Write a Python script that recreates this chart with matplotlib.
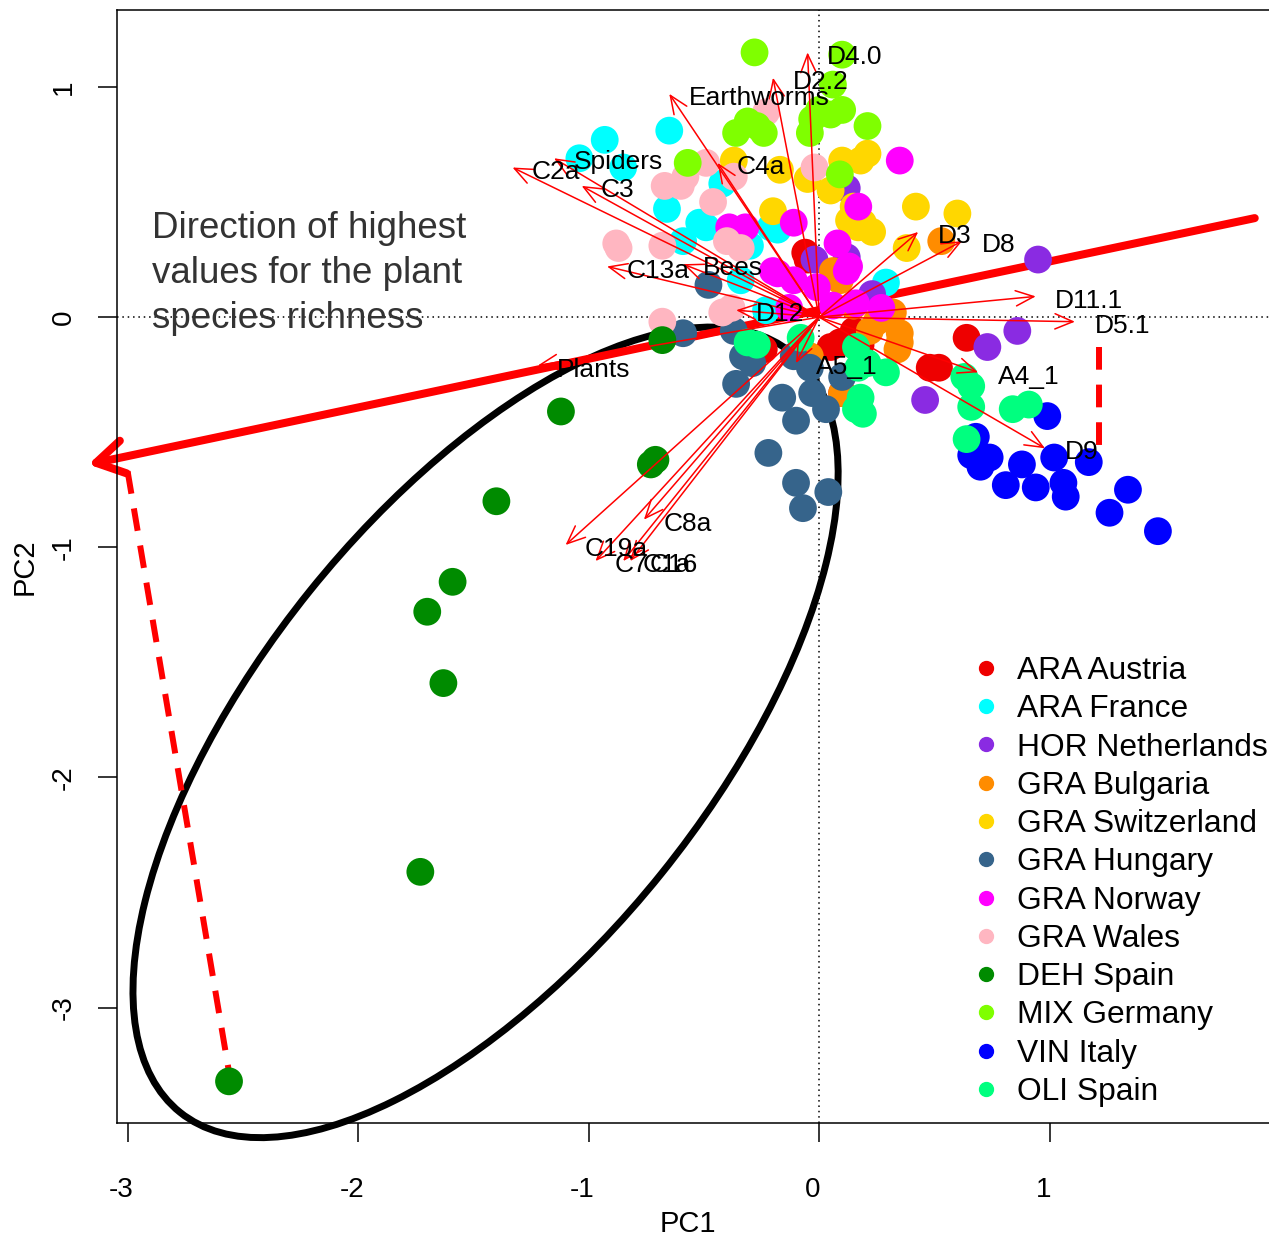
import numpy as np
import matplotlib
matplotlib.use("Agg")
import matplotlib.pyplot as plt
import matplotlib.transforms as mtransforms
from matplotlib.patches import Ellipse
from matplotlib.lines import Line2D

plt.rcParams['font.family'] = ['Liberation Sans', 'DejaVu Sans']

# PCA site scores per land-use / country group
groups = ['ARA Austria', 'ARA France', 'HOR Netherlands', 'GRA Bulgaria',
          'GRA Switzerland', 'GRA Hungary', 'GRA Norway', 'GRA Wales',
          'DEH Spain', 'MIX Germany', 'VIN Italy', 'OLI Spain']
group_colors = ['#EE0000', '#00FFFF', '#8A2BE2', '#FF8C00', '#FFD700', '#36648B',
                '#FF00FF', '#FFB6C1', '#008B00', '#7FFF00', '#0000FF', '#00FF7F']

austria_x = [0.64, 0.52, 0.48, -0.06, 0.12, 0.09, 0.15, 0.10, -0.24, 0.18, 0.05, -0.05]
austria_y = [-0.09, -0.22, -0.22, 0.28, -0.11, -0.11, -0.06, -0.33, -0.14, -0.12, -0.13, 0.25]
france_x = [-1.04, -0.93, -0.85, -0.65, -0.66, -0.52, -0.42, -0.49, -0.59, -0.34, -0.21, -0.18, -0.23, 0.29, -0.30]
france_y = [0.69, 0.77, 0.65, 0.81, 0.47, 0.41, 0.58, 0.39, 0.33, 0.16, 0.39, 0.38, 0.03, 0.15, 0.31]
netherlands_x = [0.95, 0.86, 0.73, 0.46, 0.12, -0.02, 0.23, 0.12]
netherlands_y = [0.25, -0.06, -0.13, -0.36, 0.56, 0.25, 0.10, 0.26]
bulgaria_x = [0.53, 0.32, 0.35, 0.34, 0.22, 0.09, 0.06, 0.35, -0.04, 0.10, 0.25, 0.15]
bulgaria_y = [0.33, 0.02, -0.07, -0.14, -0.06, 0.16, 0.20, -0.11, -0.17, -0.33, -0.02, 0.05]
switzerland_x = [0.10, 0.18, 0.21, 0.42, 0.60, 0.38, 0.19, 0.23, 0.13, 0.15, -0.20, -0.37, -0.17, -0.05, 0.05, 0.17]
switzerland_y = [0.68, 0.68, 0.71, 0.48, 0.45, 0.30, 0.41, 0.37, 0.42, 0.48, 0.46, 0.68, 0.64, 0.60, 0.55, 0.39]
hungary_x = [-0.59, -0.48, -0.36, -0.29, -0.16, -0.10, -0.03, 0.03, -0.22, -0.10, 0.04, -0.07, -0.11, -0.04, 0.10, -0.33, -0.37]
hungary_y = [-0.07, 0.14, -0.29, -0.20, -0.35, -0.45, -0.33, -0.40, -0.59, -0.72, -0.76, -0.83, -0.17, -0.22, -0.26, -0.17, -0.06]
norway_x = [0.35, 0.17, -0.11, -0.39, 0.08, 0.13, -0.18, -0.20, -0.11, -0.01, 0.12, 0.16, 0.27, -0.13, 0.06, -0.32]
norway_y = [0.68, 0.48, 0.41, 0.39, 0.32, 0.22, 0.19, 0.20, 0.16, 0.13, 0.20, 0.06, 0.04, 0.04, 0.05, 0.39]
wales_x = [-0.23, -0.67, -0.58, -0.49, -0.46, -0.37, -0.02, -0.88, -0.87, -0.68, -0.40, -0.34, -0.68, -0.42, -0.38, -0.60]
wales_y = [0.89, 0.57, 0.61, 0.67, 0.50, 0.61, 0.65, 0.32, 0.30, 0.31, 0.33, 0.30, -0.02, 0.02, 0.04, 0.57]
deh_x = [-2.56, -1.73, -1.63, -1.70, -1.59, -1.40, -1.12, -0.73, -0.71, -0.68]
deh_y = [-3.32, -2.41, -1.59, -1.28, -1.15, -0.80, -0.41, -0.64, -0.62, -0.10]
germany_x = [-0.28, 0.10, 0.06, -0.31, -0.36, -0.24, -0.27, -0.03, 0.00, 0.10, -0.04, 0.21, -0.57, 0.09, 0.05]
germany_y = [1.15, 1.14, 1.01, 0.85, 0.80, 0.80, 0.83, 0.86, 0.90, 0.90, 0.80, 0.83, 0.67, 0.62, 0.88]
italy_x = [0.99, 0.68, 0.66, 0.74, 0.70, 0.81, 0.88, 0.94, 1.02, 1.06, 1.07, 1.17, 1.34, 1.26, 1.47]
italy_y = [-0.43, -0.52, -0.60, -0.61, -0.65, -0.73, -0.64, -0.74, -0.61, -0.72, -0.78, -0.63, -0.75, -0.85, -0.93]
oli_x = [-0.31, -0.08, 0.16, 0.17, 0.18, 0.16, 0.19, 0.29, 0.63, 0.66, 0.66, 0.64, 0.84, 0.91, 0.21, -0.27]
oli_y = [-0.11, -0.09, -0.13, -0.22, -0.35, -0.40, -0.42, -0.24, -0.26, -0.30, -0.39, -0.53, -0.40, -0.38, -0.20, -0.12]

group_x = [austria_x, france_x, netherlands_x, bulgaria_x, switzerland_x, hungary_x,
           norway_x, wales_x, deh_x, germany_x, italy_x, oli_x]
group_y = [austria_y, france_y, netherlands_y, bulgaria_y, switzerland_y, hungary_y,
           norway_y, wales_y, deh_y, germany_y, italy_y, oli_y]

# variable loadings
var_names = ['D4.0', 'D2.2', 'Earthworms', 'Spiders', 'C2a', 'C3', 'C4a', 'C13a', 'Bees',
             'D12', 'D3', 'D8', 'D11.1', 'D5.1', 'A4_1', 'D9', 'A5_1', 'Plants',
             'C19a', 'C7', 'C1a', 'C16', 'C8a']
var_x = [-0.05, -0.20, -0.65, -1.15, -1.33, -1.03, -0.44, -0.92, -0.59,
         -0.36, 0.43, 0.62, 0.94, 1.11, 0.69, 0.98, -0.10, -1.22,
         -1.10, -0.97, -0.85, -0.82, -0.76]
var_y = [1.15, 1.04, 0.97, 0.69, 0.65, 0.57, 0.67, 0.22, 0.23,
         0.03, 0.37, 0.33, 0.09, -0.02, -0.24, -0.57, -0.20, -0.21,
         -0.99, -1.06, -1.06, -1.06, -0.88]

# plant species richness gradient and DEH Spain ellipse
richness_x = [1.89, -3.17]
richness_y = [0.43, -0.64]
proj_x = [-3.00, -2.56]
proj_y = [-0.67, -3.28]
drop_x = [1.215, 1.215]
drop_y = [-0.13, -0.56]
ell_center = (-1.447, -1.804)
ell_cov = np.array([[2.34, 1.72], [1.72, 3.10]])

fig = plt.figure(figsize=(12.69, 12.38), dpi=100)
ax = fig.add_axes([0.0922, 0.0929, 0.9178, 0.8990])
ax.set_xlim(-3.046, 2.007)
ax.set_ylim(-3.501, 1.334)

ax.axhline(0, color='black', lw=1.1, ls=(0, (1, 2.5)), zorder=1)
ax.axvline(0, color='black', lw=1.1, ls=(0, (1, 2.5)), zorder=1)

vals, vecs = np.linalg.eigh(ell_cov)
ang = np.degrees(np.arctan2(vecs[1, 1], vecs[0, 1]))
ax.add_patch(Ellipse(ell_center, 2 * np.sqrt(vals[1]), 2 * np.sqrt(vals[0]), angle=ang,
                     fill=False, edgecolor='black', lw=5, zorder=2, clip_on=False))

ax.annotate('', xy=(richness_x[1], richness_y[1]), xytext=(richness_x[0], richness_y[0]),
            annotation_clip=False, zorder=2,
            arrowprops=dict(arrowstyle='->,head_length=1.0,head_width=0.6', color='red',
                            lw=5.8, mutation_scale=20, shrinkA=0, shrinkB=0, clip_on=False))
ax.plot(proj_x, proj_y, color='red', lw=4.3, dashes=(3.8, 2.5), zorder=2)
ax.plot(drop_x, drop_y, color='red', lw=4.3, dashes=(3.8, 2.5), zorder=2)

for xs, ys, col in zip(group_x, group_y, group_colors):
    ax.scatter(xs, ys, s=400, color=col, edgecolors='none', zorder=3)

for name, vx, vy in zip(var_names, var_x, var_y):
    ax.annotate('', xy=(vx, vy), xytext=(0, 0), zorder=4,
                arrowprops=dict(arrowstyle='->,head_length=1.3,head_width=0.55', color='red',
                                lw=1.1, mutation_scale=10, shrinkA=0, shrinkB=0))
    ax.annotate(name, xy=(vx, vy), xytext=(14, -3), textcoords='offset points',
                ha='left', va='center', fontsize=19, color='black', zorder=5)

ax.text(-2.894, 0.19, 'Direction of highest\nvalues for the plant\nspecies richness',
        ha='left', va='center', fontsize=26.5, color='#333333', linespacing=1.36, zorder=5)

ax.set_xticks([-3, -2, -1, 0, 1])
ax.set_yticks([-3, -2, -1, 0, 1])
ax.set_xticklabels(['-3', '-2', '-1', '0', '1'])
ax.set_yticklabels(['-3', '-2', '-1', '0', '1'], rotation=90, va='center')
ax.tick_params(axis='both', direction='out', length=13.7, width=1.1, labelsize=20)
ax.tick_params(axis='x', pad=25)
ax.tick_params(axis='y', pad=15)
ax.set_xlabel('PC1', fontsize=21, labelpad=5)
ax.set_ylabel('PC2', fontsize=21, labelpad=9)
ax.xaxis.label.set_x(0.4903)
ax.spines['right'].set_visible(False)
for side in ['left', 'bottom', 'top']:
    ax.spines[side].set_linewidth(1.1)

shift = mtransforms.ScaledTranslation(-0.06, 0, fig.dpi_scale_trans)
for lab in ax.get_xticklabels():
    lab.set_transform(lab.get_transform() + shift)

handles = [Line2D([], [], marker='o', ls='none', color=c, markersize=10) for c in group_colors]
fig.legend(handles, groups, loc='upper left', bbox_to_anchor=(0.7666, 0.4701),
           bbox_transform=fig.transFigure, frameon=False, fontsize=22.9,
           borderpad=0, borderaxespad=0, handlelength=0.8, handletextpad=0.6,
           labelspacing=0.26)

fig.savefig('out.png', dpi=100)
